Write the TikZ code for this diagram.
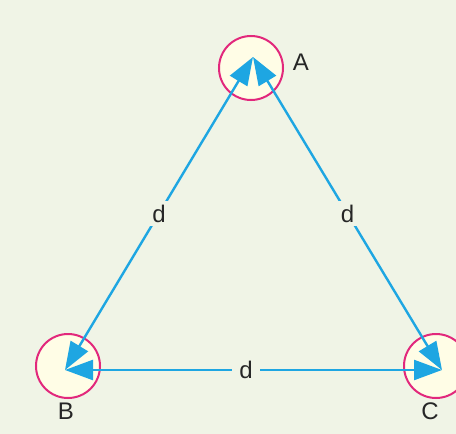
\documentclass[tikz,border=0pt]{standalone}
\usepackage{fontspec}
\setmainfont{Liberation Sans}
\usetikzlibrary{arrows.meta}
\definecolor{bg}{HTML}{F0F4E6}
\definecolor{ring}{HTML}{E2287C}
\definecolor{disc}{HTML}{FFFDE6}
\definecolor{arr}{HTML}{1EA6E2}
\tikzset{
  charge/.style={circle, draw=ring, fill=disc, line width=2pt, minimum size=64pt, inner sep=0pt},
  lbl/.style={font=\fontsize{24}{26}\selectfont, text=black!85},
  dist/.style={font=\fontsize{24}{26}\selectfont, fill=bg, inner xsep=7pt, inner ysep=4pt, text=black!85},
  link/.style={draw=arr, line width=2.4pt, {Triangle[length=28pt,width=20pt]}-{Triangle[length=28pt,width=20pt]}}
}
\begin{document}
\begin{tikzpicture}[x=1pt,y=-1pt]
\fill[bg] (0,0) rectangle (456,434);
\useasboundingbox (0,0) rectangle (456,434);
\node[charge] (cA) at (251,68) {};
\node[charge] (cB) at (68,366) {};
\node[charge] (cC) at (436,366) {};
\coordinate (tA) at (253,57);
\coordinate (tB) at (65,370);
\coordinate (tC) at (442,370);
\node[lbl] (lA) at (301,62) {A};
\node[lbl] (lB) at (66,411) {B};
\node[lbl] (lC) at (430,411) {C};
\draw[link] (tA) -- (tB) node[pos=0.5, dist] (dAB) {d};
\draw[link] (tA) -- (tC) node[pos=0.5, dist] (dAC) {d};
\draw[link] (tB) -- (tC) node[pos=0.48, dist] (dBC) {d};
\end{tikzpicture}
\end{document}
